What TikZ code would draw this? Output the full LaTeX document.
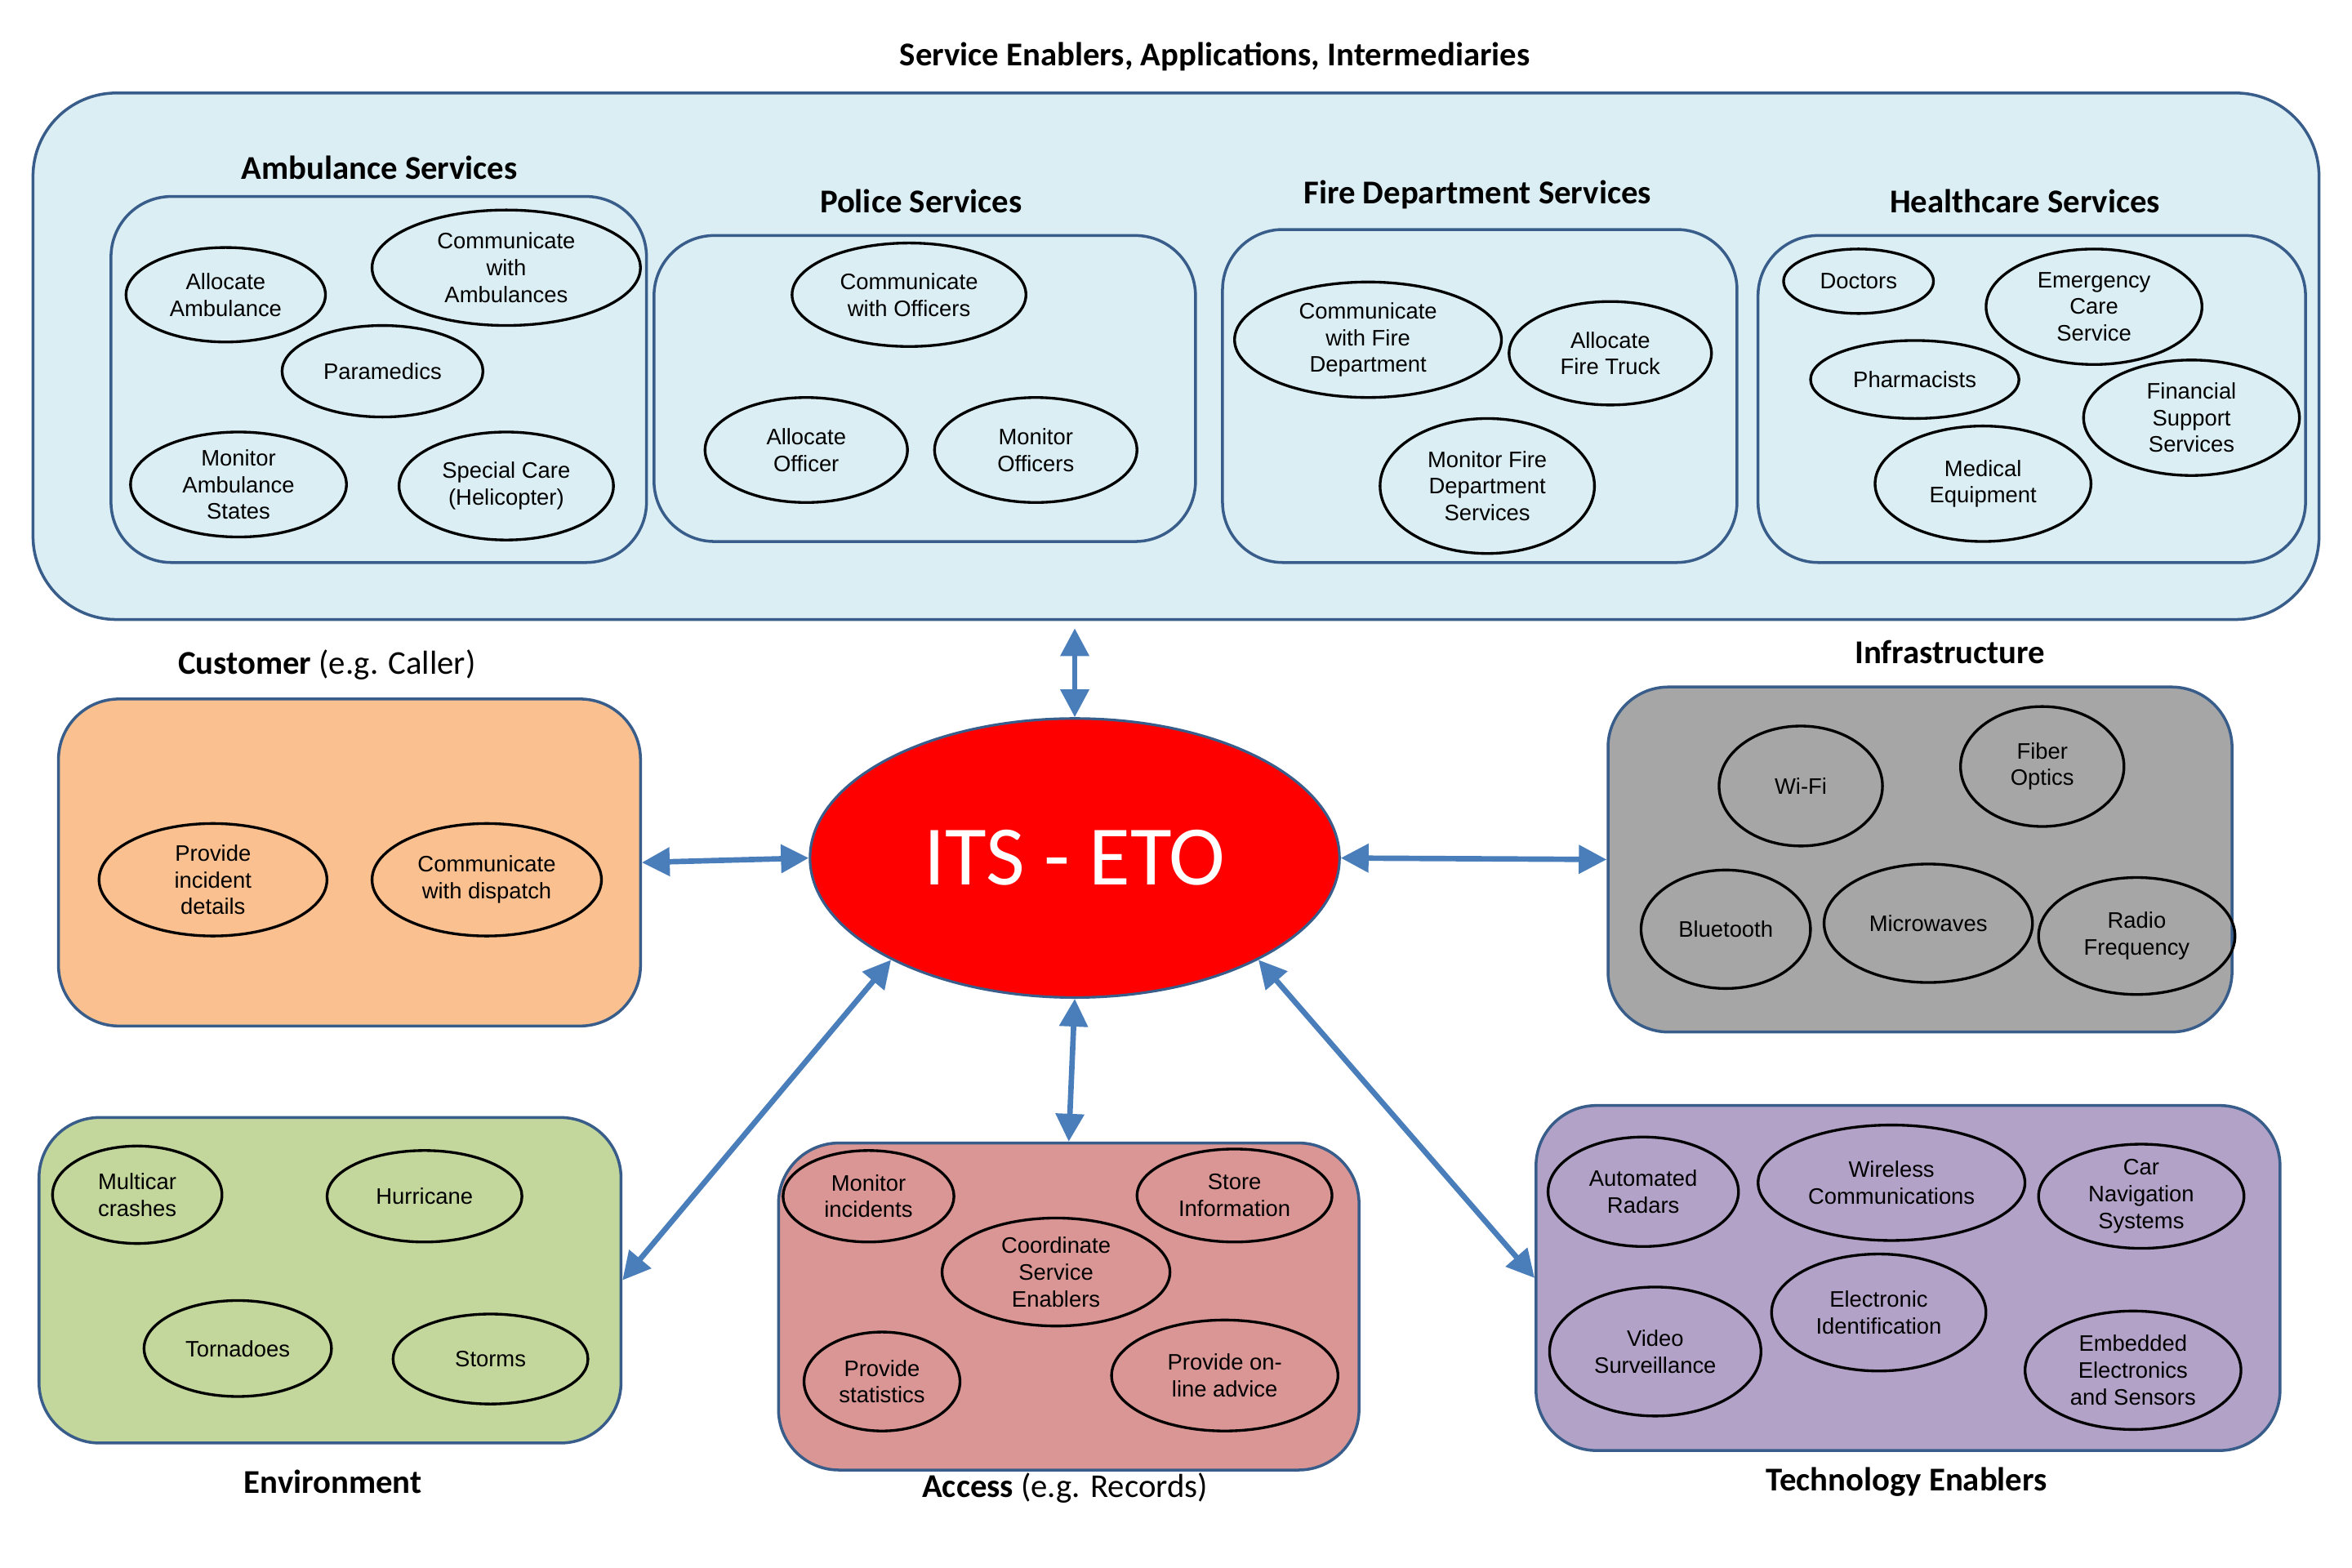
\documentclass[tikz,border=0pt]{standalone}
\usepackage{fontspec}
\setmainfont{Liberation Sans}
\newfontfamily\titlefont{Carlito}
\usetikzlibrary{shapes.geometric,arrows.meta}
\definecolor{bord}{HTML}{385D8A}
\definecolor{lblue}{HTML}{DBEEF4}
\definecolor{corange}{HTML}{FAC090}
\definecolor{cgray}{HTML}{A6A6A6}
\definecolor{cgreen}{HTML}{C3D69B}
\definecolor{cred}{HTML}{D99694}
\definecolor{cpurple}{HTML}{B3A2C7}
\definecolor{arr}{HTML}{4A7EBB}
\tikzset{
  ell/.style 2 args={ellipse, draw=black, line width=0.95pt, inner sep=0pt, align=center,
    font=\fontsize{7.8}{9.3}\selectfont,
    minimum width={#1*0.036735cm}, minimum height={#2*0.036735cm}},
  rbox/.style={draw=bord, line width=1pt, rounded corners=0.74cm, inner sep=0pt},
  ttl/.style={font=\titlefont\bfseries\fontsize{11.6}{14}\selectfont, inner sep=0pt},
  ttlr/.style={font=\titlefont\fontsize{11.6}{14}\selectfont, inner sep=0pt},
  link/.style={draw=arr, line width=1.9pt,
    {Triangle[length=0.34cm,width=0.34cm]}-{Triangle[length=0.34cm,width=0.34cm]}},
}
\newcommand\rboxnode[7][0.74cm]{\node[rbox, rounded corners=#1, fill=#3,
  minimum width={(#6-#4)*0.018367cm}, minimum height={(#7-#5)*0.018367cm}]
  (#2) at ({(#4+#6)/2},{(#5+#7)/2}) {};}
\begin{document}
\begin{tikzpicture}[x=0.018367cm, y=-0.018367cm]
\path[use as bounding box, fill=white] (0,0) rectangle (1568,1045.33);

% ---------- Service enablers ----------
\node[ttl] (tse) at (810,38) {Service Enablers, Applications, Intermediaries};
\rboxnode[1.02cm]{big}{lblue}{22}{62}{1546}{413}

\node[ttl] (tamb) at (253,112) {Ambulance Services};
\rboxnode{amb}{lblue}{74}{131}{431}{375}
\node[ell={66.5}{31.5}] (a1) at (150.5,196.5) {Allocate\\Ambulance};
\node[ell={89.5}{38.5}] (a2) at (337.5,178.5) {Communicate\\with\\Ambulances};
\node[ell={67}{30.5}] (a3) at (255,247.5) {Paramedics};
\node[ell={72}{35}] (a4) at (159,323) {Monitor\\Ambulance\\States};
\node[ell={71.5}{36}] (a5) at (337.5,324) {Special Care\\(Helicopter)};

\node[ttl] (tpol) at (614,134) {Police Services};
\rboxnode{pol}{lblue}{436}{157}{797}{361}
\node[ell={78}{34.5}] (p1) at (606,196.5) {Communicate\\with Officers};
\node[ell={67.5}{35}] (p2) at (537.5,300) {Allocate\\Officer};
\node[ell={67.5}{35}] (p3) at (690.5,300) {Monitor\\Officers};

\node[ttl] (tfire) at (985,130) {Fire Department Services};
\rboxnode{fire}{lblue}{815}{153}{1158}{375}
\node[ell={89}{38.5}] (f1) at (912,226.5) {Communicate\\with Fire\\Department};
\node[ell={67.5}{34.5}] (f2) at (1073.5,235.5) {Allocate\\Fire Truck};
\node[ell={71.5}{45}] (f3) at (991.5,324) {Monitor Fire\\Department\\Services};

\node[ttl] (thc) at (1350,134) {Healthcare Services};
\rboxnode{hc}{lblue}{1172}{157}{1537}{375}
\node[ell={50}{21.5}] (h1) at (1239,187.5) {Doctors};
\node[ell={72}{38.5}] (h2) at (1396,204.5) {Emergency\\Care\\Service};
\node[ell={69.5}{26}] (h3) at (1276.5,253) {Pharmacists};
\node[ell={72}{38.5}] (h4) at (1461,278.5) {Financial\\Support\\Services};
\node[ell={72}{38.5}] (h5) at (1322,322.5) {Medical\\Equipment};

% ---------- Customer ----------
\node[ttlr] (tcust) at (218,443) {\bfseries Customer\mdseries{} (e.g. Caller)};
\rboxnode{cust}{corange}{39}{466}{427}{684}
\node[ell={76}{37.5}] (c1) at (142,586.5) {Provide\\incident\\details};
\node[ell={76.5}{37.5}] (c2) at (324.5,586.5) {Communicate\\with dispatch};

% ---------- ITS - ETO ----------
\node[ellipse, draw=bord, line width=0.9pt, fill=red, inner sep=0pt,
  minimum width={353*0.018367cm}, minimum height={186*0.018367cm},
  text=white, font=\titlefont\fontsize{29.5}{32}\selectfont] (eto) at (716.5,572) {ITS - ETO};

% ---------- Infrastructure ----------
\node[ttl] (tinf) at (1300,435) {Infrastructure};
\rboxnode{inf}{cgray}{1072}{458}{1488}{688}
\node[ell={54.5}{40}] (i1) at (1200.5,524) {Wi-Fi};
\node[ell={54.5}{40}] (i2) at (1361.5,511) {Fiber\\Optics};
\node[ell={56.5}{39.5}] (i3) at (1150.5,619.5) {Bluetooth};
\node[ell={69.5}{39.5}] (i4) at (1285.5,615.5) {Microwaves};
\node[ell={65.5}{39}] (i5) at (1424.5,624) {Radio\\Frequency};

% ---------- Environment ----------
\rboxnode{env}{cgreen}{26}{745}{414}{962}
\node[ttl] (tenv) at (222,988) {Environment};
\node[ell={56.5}{32.5}] (e1) at (91.5,796.5) {Multicar\\crashes};
\node[ell={65}{30.5}] (e2) at (283,797.5) {Hurricane};
\node[ell={62.5}{32}] (e3) at (158.5,899) {Tornadoes};
\node[ell={65}{30}] (e4) at (327,906) {Storms};

% ---------- Access ----------
\rboxnode{acc}{cred}{519}{762}{906}{980}
\node[ttlr] (tacc) at (710,992) {\bfseries Access\mdseries{} (e.g. Records)};
\node[ell={57}{30.5}] (r1) at (579,797.5) {Monitor\\incidents};
\node[ell={65}{31}] (r2) at (823,797) {Store\\Information};
\node[ell={76}{36}] (r3) at (704,848) {Coordinate\\Service\\Enablers};
\node[ell={52}{33}] (r4) at (588,921) {Provide\\statistics};
\node[ell={75.5}{37}] (r5) at (816.5,917) {Provide on-\\line advice};

% ---------- Technology enablers ----------
\rboxnode{tech}{cpurple}{1024}{737}{1520}{967}
\node[ttl] (ttech) at (1271,988) {Technology Enablers};
\node[ell={63.5}{36.5}] (te1) at (1095.5,794.5) {Automated\\Radars};
\node[ell={89}{38.5}] (te2) at (1261,788.5) {Wireless\\Communications};
\node[ell={68.5}{33.5}] (te3) at (1427.5,797.5) {Car\\Navigation\\Systems};
\node[ell={71.5}{39}] (te4) at (1252.5,875) {Electronic\\Identification};
\node[ell={70.5}{43}] (te5) at (1103.5,901) {Video\\Surveillance};
\node[ell={72}{39.5}] (te6) at (1422,913.5) {Embedded\\Electronics\\and Sensors};

% ---------- Connectors ----------
\draw[link, shorten <=0.09cm] (big.south -| eto.north) -- (eto.north);
\draw[link] (cust.east) -- (eto.west);
\draw[link] (eto.east) -- (inf.west);
\draw[link] (env.east) -- (eto.209);
\draw[link] (eto.south) -- (acc.north);
\draw[link] (eto.331) -- (tech.west);
\end{tikzpicture}
\end{document}
